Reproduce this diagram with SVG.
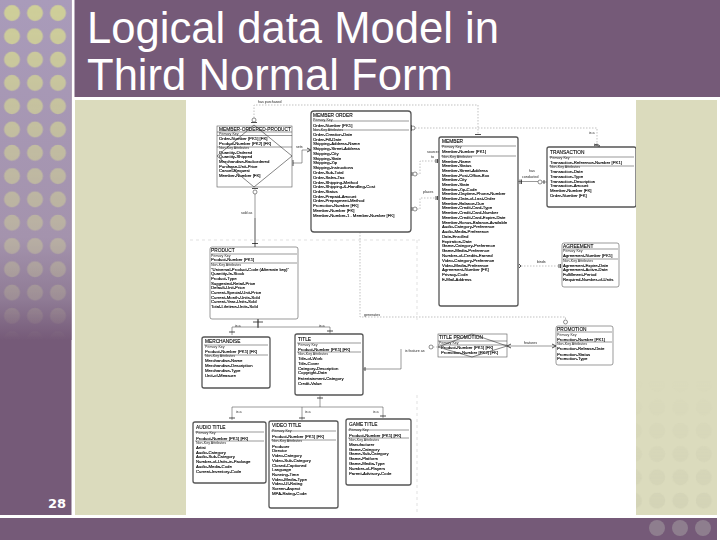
<svg xmlns="http://www.w3.org/2000/svg" width="720" height="540" viewBox="0 0 720 540">
<style>
.t{font-family:"Liberation Sans",Arial,sans-serif;font-size:4.3px;fill:#000;stroke:#000;stroke-width:.12}
.k{font-family:"Liberation Sans",Arial,sans-serif;font-size:3.6px;fill:#222}
.h{font-family:"Liberation Sans",Arial,sans-serif;font-size:4.8px;fill:#000;stroke:#000;stroke-width:.1}
.title{font-family:"Liberation Sans",Arial,sans-serif;font-size:43.6px;fill:#fff}
.num{font-family:"DejaVu Sans",sans-serif;font-size:13px;font-weight:bold;fill:#fff}
.thick{fill:#fff;stroke:#555;stroke-width:1.3}
.thin{fill:#fff;stroke:#555;stroke-width:.6}
.sep{stroke:#333;stroke-width:.5;fill:none}
.dia{fill:none;stroke:#333;stroke-width:.6}
.d{fill:none;stroke:#999;stroke-width:.6;stroke-dasharray:1.5 1.5}
.f{fill:none;stroke:#ccc;stroke-width:.6;stroke-dasharray:3 3}
.s{fill:none;stroke:#555;stroke-width:.6}
.b{fill:none;stroke:#222;stroke-width:.8}
.c{fill:#fff;stroke:#444;stroke-width:.6}
</style>
<defs>
<linearGradient id="col" x1="0" y1="0" x2="0" y2="1"><stop offset="0" stop-color="#a99bba"/><stop offset=".7" stop-color="#a493ad"/><stop offset=".88" stop-color="#8f7b95"/><stop offset="1" stop-color="#755a78"/></linearGradient>
<linearGradient id="fadeL" gradientUnits="userSpaceOnUse" x1="0" y1="0" x2="0" y2="340"><stop offset="0" stop-color="#fff"/><stop offset=".35" stop-color="#bbb"/><stop offset=".7" stop-color="#777"/><stop offset=".88" stop-color="#3a3a3a"/><stop offset="1" stop-color="#000"/></linearGradient>
<linearGradient id="fadeR" gradientUnits="userSpaceOnUse" x1="0" y1="380" x2="0" y2="515"><stop offset="0" stop-color="#000"/><stop offset="1" stop-color="#fff"/></linearGradient>
<mask id="mL" maskUnits="userSpaceOnUse" x="0" y="0" width="72" height="340"><rect x="0" y="0" width="72" height="340" fill="url(#fadeL)"/></mask>
<mask id="mR" maskUnits="userSpaceOnUse" x="636" y="380" width="81" height="135"><rect x="636" y="380" width="81" height="135" fill="url(#fadeR)"/></mask>
<pattern id="dotsL" patternUnits="userSpaceOnUse" x="0.5" y="1.35" width="23" height="23.3"><circle cx="11.5" cy="11.65" r="8" fill="#cfcf98"/></pattern>
<pattern id="dotsR" patternUnits="userSpaceOnUse" x="645.5" y="-0.3" width="23.3" height="23.3"><circle cx="11.65" cy="11.65" r="8" fill="#d3d3b6"/></pattern>
<filter id="soft" x="0" y="0" width="1" height="1"><feGaussianBlur stdDeviation="0.22"/></filter>
</defs>

<rect width="720" height="540" fill="#fff"/>
<rect x="0" y="0" width="71.5" height="515" fill="#755a78"/>
<rect x="0" y="0" width="71.5" height="340" fill="url(#col)"/>
<rect x="0" y="0" width="71.5" height="340" fill="url(#dotsL)" mask="url(#mL)"/>
<rect x="74.5" y="0" width="645.5" height="97" fill="#755a78"/>
<rect x="75" y="100" width="111" height="415" fill="#dbdbbd"/>
<rect x="636" y="100" width="81" height="415" fill="#dbdbbd"/>
<rect x="636" y="380" width="81" height="135" fill="url(#dotsR)" mask="url(#mR)"/>
<rect x="0" y="518" width="717" height="22" fill="#755a78"/>
<circle cx="657" cy="528" r="8" fill="#8e7e8e"/><circle cx="680" cy="528" r="8" fill="#8e7e8e"/><circle cx="703" cy="528" r="8" fill="#8e7e8e"/>

<text class="title" x="87" y="43">Logical data Model in</text>
<text class="title" x="87" y="90">Third Normal Form</text>
<text class="num" x="48" y="508">28</text>

<g id="erd" filter="url(#soft)">
<g id="connectors">
<path class="f" d="M190 240H420M417 240V320M417 395V515"/>
<path class="d" d="M254 118V105H478V135"/>
<path class="d" d="M415 128H597V144"/>
<path class="d" d="M360 232V317H565.500V320"/>
<path class="s" d="M255 194V218"/><path class="b" d="M255 218V247M252 243.500H258"/>
<circle class="c" cx="254" cy="120" r="2"/><path class="b" d="M251 122.500H257"/>
<circle class="c" cx="255" cy="192" r="2"/><path class="b" d="M252 188.500H258"/>
<path class="s" d="M293 163H302V150H311"/><path class="b" d="M307 148L311 150L307 152M293 160V166"/>
<circle class="c" cx="413" cy="128" r="2"/><path class="b" d="M411.500 125V131"/>
<circle class="c" cx="415" cy="174" r="2"/><path class="b" d="M412 172V176"/>
<circle class="c" cx="415" cy="209" r="2"/><path class="b" d="M412 207V211"/>
<path class="d" d="M417 174H420V161H439M417 209H420V198H439"/>
<path class="b" d="M436 159V163M437.500 159V163M436 196V200M437.500 196V200"/>
<path class="b" d="M475 134.500H481"/>
<path class="s" d="M518 181.500H538"/><circle class="c" cx="540" cy="182" r="2"/><path class="s" d="M542 182H547"/>
<path class="b" d="M520 179.500V184M521.500 179.500V184M544 180V184"/>
<path class="b" d="M594 146L597 144L600 146M594 144L600 147"/>
<path class="d" d="M518 266H559"/><path class="b" d="M519 264L521 266L519 268M559 264V268M560.500 264V268"/>
<path class="s" d="M258 319V327M232 335V327H330V334"/><path class="b" d="M253 322H263M258 319V328" stroke-width="1.2"/>
<path class="b" d="M229 332H235M327 331H333"/>
<path class="s" d="M320 395V407M232 420V407H383V418M302 407V420"/><path class="b" d="M317 398H323M229 418H235M299 418H305M380 416H386"/>
<path class="s" d="M363 369H401V349"/><path class="b" d="M365 367V371"/>
<path class="d" d="M433 347H438"/><circle class="c" cx="431" cy="347" r="2"/>
<path class="s" d="M507 346H556"/><path class="b" d="M511 344L507 346L511 348M552 344L556 346L552 348"/>
<circle class="c" cx="565.500" cy="322" r="2"/>
<text class="k" x="258" y="103">has purchased</text>
<text class="k" x="296" y="148">sets</text>
<text class="k" x="241" y="214">sold as</text>
<text class="k" x="427" y="153">sources</text><text class="k" x="431" y="158">to</text>
<text class="k" x="423" y="193">places</text>
<text class="k" x="589" y="134">is a</text>
<text class="k" x="529" y="172">has</text><text class="k" x="522" y="178">conducted</text>
<text class="k" x="537" y="263">binds</text>
<text class="k" x="364" y="316">generates</text>
<text class="k" x="235" y="327">is a</text><text class="k" x="319" y="327">is a</text>
<text class="k" x="236" y="413">is a</text><text class="k" x="305" y="413">is a</text><text class="k" x="373" y="413">is a</text>
<text class="k" x="405" y="352">is feature as</text>
<text class="k" x="524" y="344">features</text>
</g>

<g id="member-ordered-product">
<rect class="thin" x="217" y="126" width="75" height="61"/>
<path class="sep" d="M217 132H292M217 135.500H292M217 147H292"/>
<text class="h" x="219" y="131">MEMBER-ORDERED-PRODUCT</text>
<text class="k" x="219" y="135">Primary Key</text>
<text class="t" x="219" y="140">Order-Number [PK1] [FK]</text>
<text class="t" x="219" y="145">Product-Number [PK2] [FK]</text>
<text class="k" x="219" y="149">Non-Key Attributes</text>
<text class="t" x="219" y="154">Quantity-Ordered</text>
<text class="t" x="219" y="158">Quantity-Shipped</text>
<text class="t" x="219" y="163">Merchandise-Backordered</text>
<text class="t" x="219" y="168">Purchase-Unit-Price</text>
<text class="t" x="219" y="172">Cancel-Request</text>
<text class="t" x="219" y="177">Member-Number [FK]</text>
<path class="dia" d="M254 125L292 156L254 187L217 156Z"/>
</g>

<g id="member-order">
<rect class="thick" x="311" y="111" width="100" height="121" rx="3"/>
<path class="sep" d="M313 121H409M313 130H409"/>
<text class="h" x="313" y="117">MEMBER ORDER</text>
<text class="k" x="313" y="121">Primary Key</text>
<text class="t" x="313" y="127">Order-Number [PK1]</text>
<text class="k" x="313" y="131">Non-Key Attributes</text>
<text class="t" x="313" y="136">Order-Creation-Date</text>
<text class="t" x="313" y="140.500">Order-Fill-Date</text>
<text class="t" x="313" y="145">Shipping-Address-Name</text>
<text class="t" x="313" y="150">Shipping-Street-Address</text>
<text class="t" x="313" y="154.500">Shipping-City</text>
<text class="t" x="313" y="159.500">Shipping-State</text>
<text class="t" x="313" y="164">Shipping-Zip</text>
<text class="t" x="313" y="169">Shipping-Instructions</text>
<text class="t" x="313" y="174">Order-Sub-Total</text>
<text class="t" x="313" y="178.500">Order-Sales-Tax</text>
<text class="t" x="313" y="183.500">Order-Shipping-Method</text>
<text class="t" x="313" y="188">Order-Shipping-&amp;-Handling-Cost</text>
<text class="t" x="313" y="193">Order-Status</text>
<text class="t" x="313" y="197.500">Order-Prepaid-Amount</text>
<text class="t" x="313" y="202">Order-Prepayment-Method</text>
<text class="t" x="313" y="207">Promotion-Number [FK]</text>
<text class="t" x="313" y="211.500">Member-Number [FK]</text>
<text class="t" x="313" y="216.500">Member-Number-1 . Member-Number [FK]</text>
</g>

<g id="member">
<rect class="thick" x="439" y="137" width="79" height="169" rx="2"/>
<path class="sep" d="M441 146H516M441 156H516"/>
<text class="h" x="442" y="143">MEMBER</text>
<text class="k" x="442" y="148">Primary Key</text>
<text class="t" x="442" y="153">Member-Number [PK1]</text>
<text class="k" x="442" y="158">Non-Key Attributes</text>
<text class="t" x="442" y="163">Member-Name</text>
<text class="t" x="442" y="167">Member-Status</text>
<text class="t" x="442" y="172">Member-Street-Address</text>
<text class="t" x="442" y="176.500">Member-Post-Office-Box</text>
<text class="t" x="442" y="181">Member-City</text>
<text class="t" x="442" y="186">Member-State</text>
<text class="t" x="442" y="190.500">Member-Zip-Code</text>
<text class="t" x="442" y="195">Member-Daytime-Phone-Number</text>
<text class="t" x="442" y="200">Member-Date-of-Last-Order</text>
<text class="t" x="442" y="204.500">Member-Balance-Due</text>
<text class="t" x="442" y="209">Member-Credit-Card-Type</text>
<text class="t" x="442" y="214">Member-Credit-Card-Number</text>
<text class="t" x="442" y="219">Member-Credit-Card-Expire-Date</text>
<text class="t" x="442" y="223.500">Member-Bonus-Balance-Available</text>
<text class="t" x="442" y="228">Audio-Category-Preference</text>
<text class="t" x="442" y="233">Audio-Media-Preference</text>
<text class="t" x="442" y="238">Date-Enrolled</text>
<text class="t" x="442" y="242.500">Expiration-Date</text>
<text class="t" x="442" y="247">Game-Category-Preference</text>
<text class="t" x="442" y="252">Game-Media-Preference</text>
<text class="t" x="442" y="257">Number-of-Credits-Earned</text>
<text class="t" x="442" y="262">Video-Category-Preference</text>
<text class="t" x="442" y="266.500">Video-Media-Preference</text>
<text class="t" x="442" y="271">Agreement-Number [FK]</text>
<text class="t" x="442" y="276">Privacy-Code</text>
<text class="t" x="442" y="280.500">E-Mail-Address</text>
</g>

<g id="transaction">
<rect class="thick" x="547" y="147" width="89" height="60" rx="2"/>
<path class="sep" d="M549 157H634M549 166H634"/>
<text class="h" x="550" y="154">TRANSACTION</text>
<text class="k" x="550" y="158.500">Primary Key</text>
<text class="t" x="550" y="163.500">Transaction-Reference-Number [PK1]</text>
<text class="k" x="550" y="168">Non-Key Attributes</text>
<text class="t" x="550" y="173">Transaction-Date</text>
<text class="t" x="550" y="177.500">Transaction-Type</text>
<text class="t" x="550" y="182.500">Transaction-Description</text>
<text class="t" x="550" y="187">Transaction-Amount</text>
<text class="t" x="550" y="192">Member-Number [FK]</text>
<text class="t" x="550" y="196.500">Order-Number [FK]</text>
</g>

<g id="agreement">
<rect class="thin" x="562" y="243" width="57" height="44" rx="2"/>
<path class="sep" d="M563 249H618M563 259H618"/>
<text class="h" x="563" y="247.500">AGREEMENT</text>
<text class="k" x="563" y="252">Primary Key</text>
<text class="t" x="563" y="257">Agreement-Number [PK1]</text>
<text class="k" x="563" y="261.500">Non-Key Attributes</text>
<text class="t" x="563" y="266.500">Agreement-Expire-Date</text>
<text class="t" x="563" y="271">Agreement-Active-Date</text>
<text class="t" x="563" y="275.500">Fulfillment-Period</text>
<text class="t" x="563" y="280.500">Required-Number-of-Units</text>
</g>

<g id="product">
<rect class="thin" x="210" y="247" width="88" height="72" rx="2"/>
<path class="sep" d="M211 254H297M211 263H297"/>
<text class="h" x="211" y="252">PRODUCT</text>
<text class="k" x="211" y="256.500">Primary Key</text>
<text class="t" x="211" y="261">Product-Number [PK1]</text>
<text class="k" x="211" y="265.500">Non-Key Attributes</text>
<text class="t" x="211" y="270.500">"Universal-Product-Code (Alternate key)"</text>
<text class="t" x="211" y="275">Quantity-In-Stock</text>
<text class="t" x="211" y="280">Product-Type</text>
<text class="t" x="211" y="284.500">Suggested-Retail-Price</text>
<text class="t" x="211" y="289">Default-Unit-Price</text>
<text class="t" x="211" y="294">Current-Special-Unit-Price</text>
<text class="t" x="211" y="298.500">Current-Month-Units-Sold</text>
<text class="t" x="211" y="303">Current-Year-Units-Sold</text>
<text class="t" x="211" y="308">Total-Lifetime-Units-Sold</text>
</g>

<g id="merchandise">
<rect class="thick" x="202" y="337" width="68" height="51" rx="2"/>
<path class="sep" d="M204 345H268M204 355H268"/>
<text class="h" x="205" y="343">MERCHANDISE</text>
<text class="k" x="205" y="348">Primary Key</text>
<text class="t" x="205" y="353">Product-Number [PK1] [FK]</text>
<text class="k" x="205" y="357">Non-Key Attributes</text>
<text class="t" x="205" y="362">Merchandise-Name</text>
<text class="t" x="205" y="367">Merchandise-Description</text>
<text class="t" x="205" y="372">Merchandise-Type</text>
<text class="t" x="205" y="376.500">Unit-of-Measure</text>
</g>

<g id="title">
<rect class="thick" x="295" y="334" width="68" height="61" rx="2"/>
<path class="sep" d="M297 343H361M297 352H361"/>
<text class="h" x="298" y="340.500">TITLE</text>
<text class="k" x="298" y="345.500">Primary Key</text>
<text class="t" x="298" y="350.500">Product-Number [PK1] [FK]</text>
<text class="k" x="298" y="355">Non-Key Attributes</text>
<text class="t" x="298" y="360">Title-of-Work</text>
<text class="t" x="298" y="364.500">Title-Cover</text>
<text class="t" x="298" y="369.500">Category-Description</text>
<text class="t" x="298" y="374">Copyright-Date</text>
<text class="t" x="298" y="379.500">Entertainment-Category</text>
<text class="t" x="298" y="384.500">Credit-Value</text>
</g>

<g id="title-promotion">
<rect class="thin" x="438" y="334" width="69" height="23"/>
<path class="sep" d="M438 341H507M438 345H507"/>
<text class="h" x="439" y="339">TITLE PROMOTION</text>
<text class="k" x="439" y="343.500">Primary Key</text>
<text class="t" x="441" y="348.500">Product-Number [PK1] [FK]</text>
<text class="t" x="441" y="353.500">Promotion-Number [PK2] [FK]</text>
<path class="dia" d="M472 334L507 346L472 357L438 347Z"/>
</g>

<g id="promotion">
<rect class="thin" x="556" y="326" width="57" height="39" rx="2"/>
<path class="sep" d="M557 332H612M557 342H612"/>
<text class="h" x="557" y="331">PROMOTION</text>
<text class="k" x="557" y="335.500">Primary Key</text>
<text class="t" x="557" y="340.500">Promotion-Number [PK1]</text>
<text class="k" x="557" y="345">Non-Key Attributes</text>
<text class="t" x="557" y="350">Promotion-Release-Date</text>
<text class="t" x="557" y="355.500">Promotion-Status</text>
<text class="t" x="557" y="360">Promotion-Type</text>
</g>

<g id="audio-title">
<rect class="thick" x="193" y="422" width="73" height="61" rx="2"/>
<path class="sep" d="M195 432H264M195 441H264"/>
<text class="h" x="196" y="428.500">AUDIO TITLE</text>
<text class="k" x="196" y="434">Primary Key</text>
<text class="t" x="196" y="439.500">Product-Number [PK1] [FK]</text>
<text class="k" x="196" y="443.500">Non-Key Attributes</text>
<text class="t" x="196" y="449">Artist</text>
<text class="t" x="196" y="453.500">Audio-Category</text>
<text class="t" x="196" y="458">Audio-Sub-Category</text>
<text class="t" x="196" y="463">Number-of-Units-in-Package</text>
<text class="t" x="196" y="467.500">Audio-Media-Code</text>
<text class="t" x="196" y="472.500">Current-Inventory-Code</text>
</g>

<g id="video-title">
<rect class="thick" x="269" y="421" width="69" height="87" rx="2"/>
<path class="sep" d="M271 431H336M271 440H336"/>
<text class="h" x="272" y="427">VIDEO TITLE</text>
<text class="k" x="272" y="432">Primary Key</text>
<text class="t" x="272" y="437.500">Product-Number [PK1] [FK]</text>
<text class="k" x="272" y="442">Non-Key Attributes</text>
<text class="t" x="272" y="447.500">Producer</text>
<text class="t" x="272" y="452">Director</text>
<text class="t" x="272" y="456.500">Video-Category</text>
<text class="t" x="272" y="461.500">Video-Sub-Category</text>
<text class="t" x="272" y="466.500">Closed-Captioned</text>
<text class="t" x="272" y="471">Language</text>
<text class="t" x="272" y="475.500">Running-Time</text>
<text class="t" x="272" y="480.500">Video-Media-Type</text>
<text class="t" x="272" y="485">Video-UI-Rating</text>
<text class="t" x="272" y="489.500">Screen-Aspect</text>
<text class="t" x="272" y="494.500">MPA-Rating-Code</text>
</g>

<g id="game-title">
<rect class="thick" x="346" y="419" width="65" height="66" rx="2"/>
<path class="sep" d="M348 430H409M348 438H409"/>
<text class="h" x="349" y="426">GAME TITLE</text>
<text class="k" x="349" y="430.500">Primary Key</text>
<text class="t" x="349" y="436.500">Product-Number [PK1] [FK]</text>
<text class="k" x="349" y="440.500">Non-Key Attributes</text>
<text class="t" x="349" y="445.500">Manufacturer</text>
<text class="t" x="349" y="450.500">Game-Category</text>
<text class="t" x="349" y="455">Game-Sub-Category</text>
<text class="t" x="349" y="460">Game-Platform</text>
<text class="t" x="349" y="464.500">Game-Media-Type</text>
<text class="t" x="349" y="469.500">Number-of-Players</text>
<text class="t" x="349" y="474.500">Parent-Advisory-Code</text>
</g>
</g>
</svg>
